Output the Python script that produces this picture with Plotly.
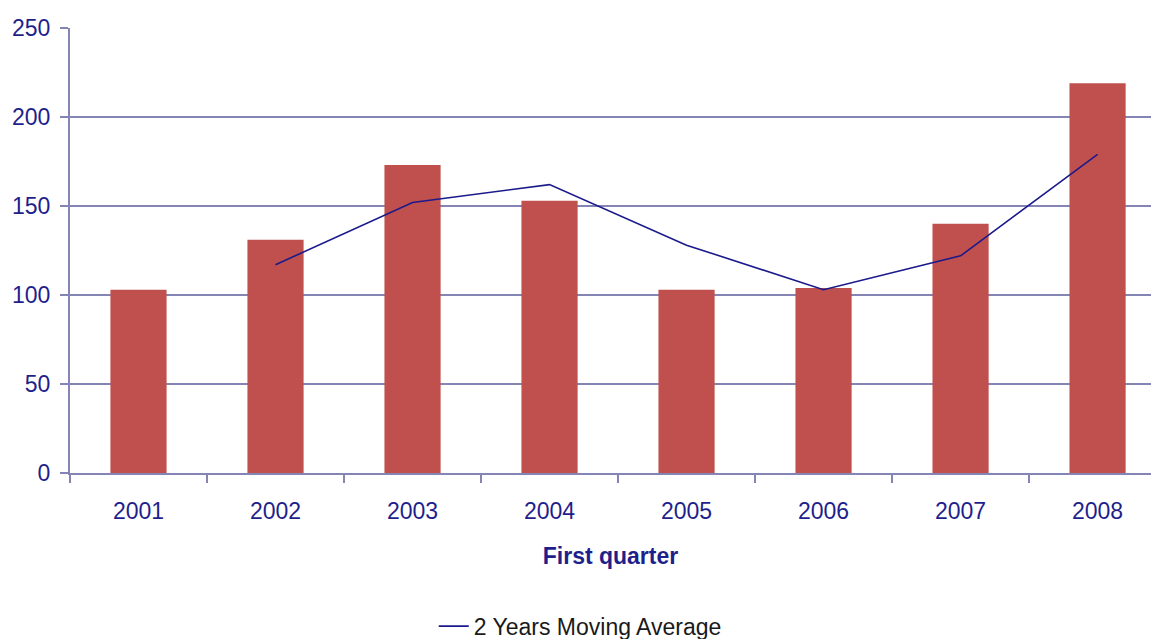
import plotly.graph_objects as go

years = ["2001", "2002", "2003", "2004", "2005", "2006", "2007", "2008"]
quarter_values = [103, 131, 173, 153, 103, 104, 140, 219]
ma_years = ["2002", "2003", "2004", "2005", "2006", "2007", "2008"]
moving_avg = [117, 152, 162, 128, 103, 122, 179]
y_ticks = [0, 50, 100, 150, 200, 250]

axis_col = "#8585B5"
text_col = "#1F1F8C"
font = "Liberation Sans, Arial, sans-serif"

fig = go.Figure()
fig.add_trace(go.Bar(x=years, y=quarter_values, marker_color="#C0504D",
                     marker_line_width=0, width=0.41, showlegend=False))
fig.add_trace(go.Scatter(x=ma_years, y=moving_avg, mode="lines",
                         line=dict(color="#1A1A8C", width=1.6),
                         name="2 Years Moving Average"))

fig.update_layout(
    width=1151, height=639,
    margin=dict(l=70, r=0, t=28, b=166, autoexpand=False),
    plot_bgcolor="white", paper_bgcolor="white",
    font=dict(family=font, size=23, color=text_col),
    legend=dict(orientation="h", x=0.472, xanchor="center", yref="container",
                y=0.02, yanchor="middle",
                font=dict(color="#1a1a1a", size=23)),
    xaxis=dict(type="category", range=[-0.5, 7.39], showline=True, linecolor=axis_col,
               linewidth=2, ticks="outside", tickson="boundaries", ticklen=8,
               tickcolor=axis_col, tickwidth=2, showgrid=False,
               ticklabelstandoff=16,
               tickfont=dict(color=text_col, size=23),
               title=dict(text="<b>First quarter</b>", font=dict(color=text_col, size=23),
                          standoff=25)),
    yaxis=dict(range=[0, 250], tickvals=y_ticks, showline=True, linecolor=axis_col,
               linewidth=2, ticks="outside", ticklen=8, tickcolor=axis_col, tickwidth=2,
               showgrid=True, gridcolor=axis_col, gridwidth=2, zeroline=False,
               ticklabelstandoff=5,
               tickfont=dict(color=text_col, size=23)),
)

fig.write_html("out.html")
